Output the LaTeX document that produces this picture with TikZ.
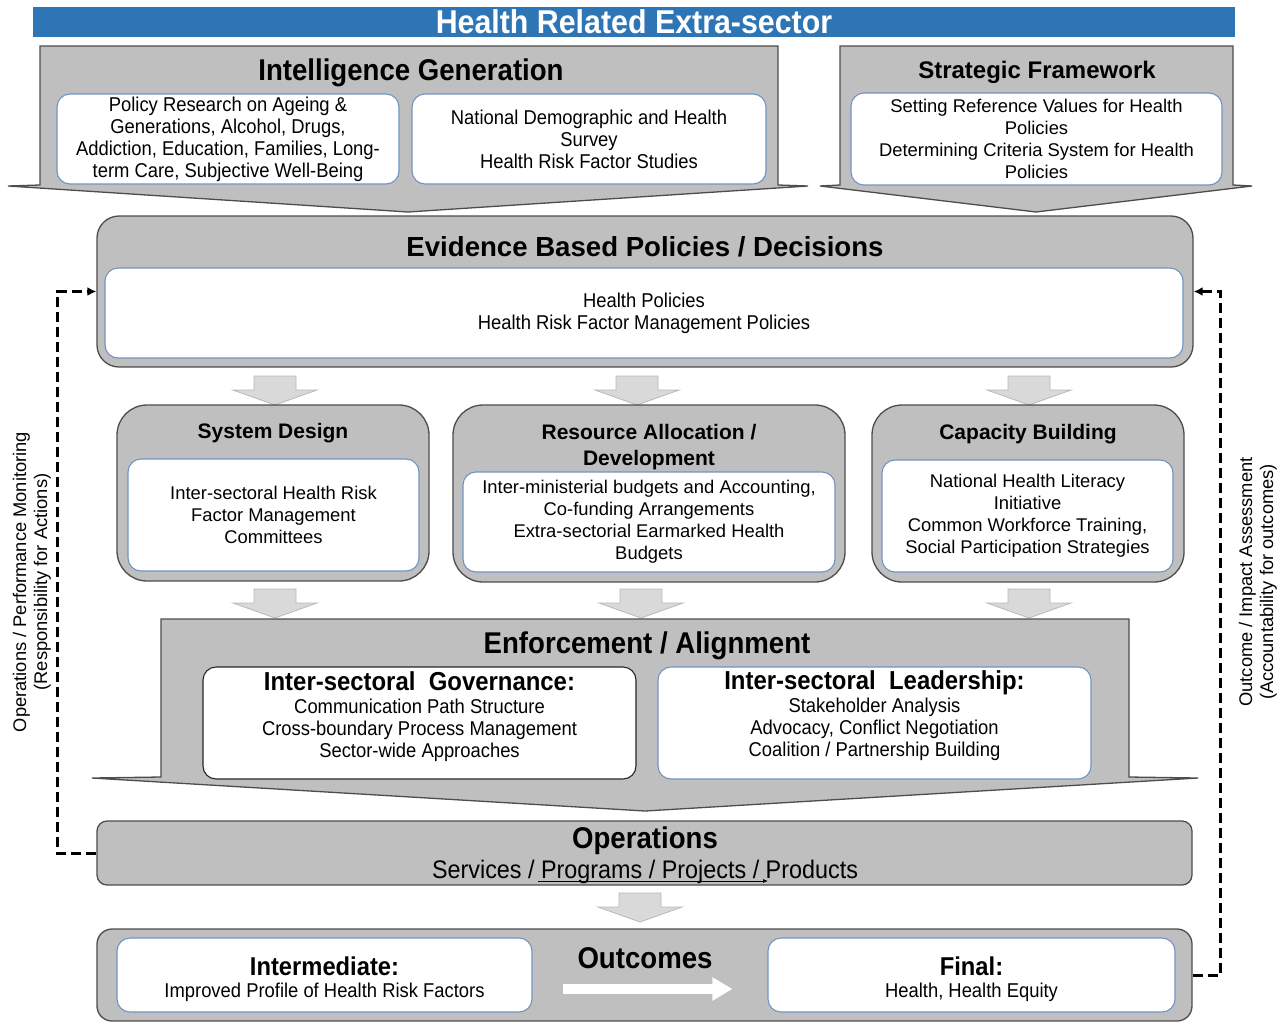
\documentclass[tikz,border=0pt]{standalone}
\usepackage{fontspec}
\setmainfont{Liberation Sans}
\newfontfamily\narrowfont[FakeStretch=0.92]{Liberation Sans}
\usepackage{tikz}
\usetikzlibrary{arrows.meta}
\usetikzlibrary{positioning}

\definecolor{hdrblue}{HTML}{2E75B6}
\definecolor{panelgray}{HTML}{BFBFBF}
\definecolor{edgegray}{HTML}{4D4D4D}
\definecolor{boxblue}{HTML}{6F94C2}
\definecolor{arrgray}{HTML}{D9D9D9}

\newcommand{\subhd}{\narrowfont\bfseries\fontsize{26}{28}\selectfont}
\newcommand{\outhd}{\narrowfont\bfseries\fontsize{25.8}{26}\selectfont}

\tikzset{
	panel/.style={draw=edgegray, fill=panelgray, line width=1.3pt},
	inbox/.style={draw=boxblue, fill=white, line width=1.1pt, rounded corners=13pt, align=center, inner sep=0pt},
	headN/.style={font=\narrowfont\bfseries\fontsize{30}{34}\selectfont, align=center},
	headR/.style={font=\bfseries\fontsize{21}{26}\selectfont, align=center},
	txtN/.style={font=\narrowfont\fontsize{20}{22}\selectfont, align=center},
	txtR/.style={font=\fontsize{18.4}{22}\selectfont, align=center},
	sideR/.style={font=\fontsize{18.3}{21}\selectfont, align=center, rotate=90},
	blockarr/.style={fill=arrgray, draw=black!28, line width=0.8pt},
	fback/.style={draw=black, line width=3pt, dash pattern=on 10pt off 5pt, -{Latex[length=9pt,width=9pt]}},
}

\begin{document}
\begin{tikzpicture}[x=1pt, y=-1pt]

	\useasboundingbox (0,0) rectangle (1287,1023);

	\def\sw{21}
	\def\hw{42}

	% header
	\node[fill=hdrblue, minimum width=1202pt, minimum height=30pt, inner sep=0pt, text=white,
		font=\narrowfont\bfseries\fontsize{33}{30}\selectfont] (hdr) at (634,22) {Health Related Extra-sector};

	% chevrons
	\filldraw[panel] (40,46) -- (778,46) -- (778,185) -- (808,186) -- (408,212) -- (8,186) -- (40,185) -- cycle;
	\filldraw[panel] (840,46) -- (1233,46) -- (1233,185) -- (1252,186) -- (1036,212) -- (820,186) -- (840,185) -- cycle;

	\node[headN] (intelT) at (411,73) {Intelligence Generation};
	\node[inbox, txtN, minimum width=342pt, minimum height=90pt] (intelA) at (228,139)
		{Policy Research on Ageing \&\\Generations, Alcohol, Drugs,\\Addiction, Education, Families, Long-\\term Care, Subjective Well-Being};
	\node[inbox, txtN, minimum width=354pt, minimum height=90pt] (intelB) at (589,139)
		{National Demographic and Health\\Survey\\Health Risk Factor Studies};

	\node[headR, font=\bfseries\fontsize{24}{28}\selectfont] (stratT) at (1037,72) {Strategic Framework};
	\node[inbox, txtR, minimum width=371pt, minimum height=92pt] (stratA) at (1036.5,139)
		{Setting Reference Values for Health\\Policies\\Determining Criteria System for Health\\Policies};

	% evidence
	\node[panel, rounded corners=22pt, minimum width=1096pt, minimum height=151pt] (evid) at (645,291.5) {};
	\node[headR, font=\bfseries\fontsize{27.6}{30}\selectfont] (evidT) at (645,247) {Evidence Based Policies / Decisions};
	\node[inbox, txtN, minimum width=1078pt, minimum height=90pt] (evidA) at (644,313)
		{Health Policies\\Health Risk Factor Management Policies};

	% block arrows
	\foreach \bx/\by in {275/376, 637/376, 1029/376, 275/589, 641/589, 1029/589, 640/893}
		{
			\filldraw[blockarr] (\bx-\sw,\by) -- (\bx+\sw,\by) -- (\bx+\sw,\by+14) -- (\bx+\hw,\by+14)
				-- (\bx,\by+29) -- (\bx-\hw,\by+14) -- (\bx-\sw,\by+14) -- cycle;
		}

	% middle row
	\node[panel, rounded corners=30pt, minimum width=312pt, minimum height=176pt] (sysd) at (273,493) {};
	\node[headR] (sysdT) at (273,433) {System Design};
	\node[inbox, txtR, minimum width=291pt, minimum height=112pt] (sysdA) at (273.5,515)
		{Inter-sectoral Health Risk\\Factor Management\\Committees};

	\node[panel, rounded corners=30pt, minimum width=392pt, minimum height=177pt] (resa) at (649,493.5) {};
	\node[headR] (resaT) at (649,447) {Resource Allocation /\\Development};
	\node[inbox, txtR, minimum width=372pt, minimum height=100pt] (resaA) at (649,522)
		{Inter-ministerial budgets and Accounting,\\Co-funding Arrangements\\Extra-sectorial Earmarked Health\\Budgets};

	\node[panel, rounded corners=30pt, minimum width=312pt, minimum height=177pt] (capb) at (1028,493.5) {};
	\node[headR] (capbT) at (1028,434) {Capacity Building};
	\node[inbox, txtR, minimum width=291pt, minimum height=112pt] (capbA) at (1027.5,516)
		{National Health Literacy\\Initiative\\Common Workforce Training,\\Social Participation Strategies};

	% enforcement
	\filldraw[panel] (161,619) -- (1129,619) -- (1129,777) -- (1198,778) -- (645,811) -- (92,778) -- (161,777) -- cycle;
	\node[headN] (enfT) at (647,646) {Enforcement / Alignment};
	\node[inbox, draw=black!85, minimum width=433pt, minimum height=112pt] (govA) at (419.5,723) {};
	\node[txtN, below=2pt of govA.north] (govT)
		{{\subhd Inter-sectoral\ \ Governance:}\\[1pt]Communication Path Structure\\Cross-boundary Process Management\\Sector-wide Approaches};
	\node[inbox, minimum width=433pt, minimum height=112pt] (leadA) at (874.5,723) {};
	\node[txtN, below=1pt of leadA.north] (leadT)
		{{\subhd Inter-sectoral\ \ Leadership:}\\[1pt]Stakeholder Analysis\\Advocacy, Conflict Negotiation\\Coalition / Partnership Building};

	% operations
	\node[panel, rounded corners=10pt, minimum width=1095pt, minimum height=64pt] (ops) at (644.5,853) {};
	\node[headN] (opsT) at (645,841) {Operations};
	\node[txtN, font=\narrowfont\fontsize{25.4}{28}\selectfont] (opsS) at (645,872) {Services / Programs / Projects / Products};
	\coordinate (ulA) at (538,881);
	\coordinate (ulB) at (768,881);
	\draw[line width=0.7pt, -{Latex[length=5pt,width=4pt]}] (ulA) -- (ulB);

	% outcomes
	\node[panel, rounded corners=15pt, minimum width=1095pt, minimum height=92pt] (outc) at (644.5,975) {};
	\node[headN] (outcT) at (645,958) {Outcomes};
	\node[inbox, minimum width=415pt, minimum height=74pt] (interA) at (324.5,975) {};
	\node[txtN, below=16pt of interA.north] (interT)
		{{\outhd Intermediate:}\\Improved Profile of Health Risk Factors};
	\node[inbox, minimum width=407pt, minimum height=74pt] (finA) at (971.5,975) {};
	\node[txtN, below=16pt of finA.north] (finT)
		{{\outhd Final:}\\Health, Health Equity};
	\draw[white, line width=10pt, -{Triangle[length=20pt 0 0, width=22pt 0 0]}]
		([xshift=30pt, yshift=-14pt]interA.east) -- ([xshift=-35pt, yshift=-14pt]finA.west);

	% feedback loops
	\draw[fback] (ops.west) -- ++(-39,0) |- (evid.west);
	\draw[fback] (outc.east) -- ++(28,0) |- (evid.east);

	\node[sideR] (opsL) at (32,582) {Operations / Performance Monitoring\\(Responsibility for Actions)};
	\node[sideR] (outL) at (1258,582) {Outcome / Impact Assessment\\(Accountability for outcomes)};

\end{tikzpicture}
\end{document}
